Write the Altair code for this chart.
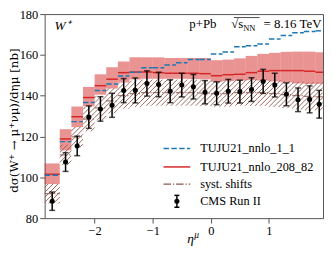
import altair as alt
import pandas as pd
import numpy as np

# ---------------- data ----------------
edges = [-2.86, -2.6, -2.4, -2.2, -2.0, -1.8, -1.6, -1.4, -1.2, -1.0, -0.8, -0.6,
         -0.4, -0.2, 0.0, 0.2, 0.4, 0.6, 0.8, 1.0, 1.2, 1.4, 1.6, 1.8, 1.93]

cms = [88.3, 107.5, 115.4, 129.5, 133.5, 135.3, 142.5, 142.6, 146.0, 145.5, 142.2, 145.2,
       144.4, 141.7, 141.2, 142.2, 142.0, 143.0, 147.0, 145.2, 140.7, 138.0, 138.2, 135.8]
cms_err = [4.5, 4.6, 4.8, 5.5, 6.0, 5.9, 5.9, 6.1, 6.2, 6.0, 5.6, 5.8,
           6.0, 5.7, 5.6, 5.8, 5.6, 5.8, 5.9, 5.8, 5.6, 5.8, 6.6, 6.8]

nnlo_208 = [101.5, 118.8, 129.7, 139.1, 144.9, 148.1, 151.3, 151.6, 151.6, 151.3, 151.0, 151.0,
            151.0, 150.8, 149.8, 150.3, 150.5, 151.3, 152.0, 152.3, 152.3, 152.3, 152.0, 151.5]
nnlo_208_hi = [106.8, 123.6, 134.7, 144.3, 150.5, 154.0, 156.8, 158.8, 158.8, 158.8, 158.5, 158.5,
               158.5, 158.5, 157.4, 157.7, 158.3, 159.5, 160.5, 161.0, 161.5, 161.6, 161.6, 161.3]
nnlo_208_lo = [96.7, 113.2, 124.6, 134.8, 140.5, 143.5, 146.5, 148.0, 148.3, 148.3, 148.3, 148.3,
               148.2, 148.0, 146.8, 147.2, 147.4, 147.6, 147.4, 147.0, 146.5, 146.0, 145.8, 145.8]

nnlo_1_1 = [101.0, 117.5, 127.3, 136.7, 142.5, 145.7, 149.6, 151.5, 153.7, 153.7, 155.0, 156.2,
            157.7, 157.7, 160.4, 161.4, 164.0, 164.5, 165.3, 167.8, 169.5, 170.8, 171.5, 171.8]

syst = [92.0, 111.0, 119.8, 128.5, 134.0, 137.5, 140.0, 141.0, 141.5, 141.5, 141.5, 141.5,
        141.5, 141.3, 141.0, 141.0, 141.5, 141.5, 141.5, 141.0, 140.5, 140.0, 139.7, 139.5]
syst_half = [4.8, 5.0, 5.0, 6.0, 6.0, 6.2, 6.3, 6.4, 6.4, 6.4, 6.4, 6.4,
             6.4, 6.4, 6.4, 6.4, 6.4, 6.5, 6.5, 6.6, 6.6, 6.8, 6.9, 7.0]

x_ticks = [-2, -1, 0, 1]
y_ticks = [80, 100, 120, 140, 160, 180]
legend_labels = ["TUJU21_nnlo_1_1", "TUJU21_nnlo_208_82", "syst. shifts", "CMS Run II"]

# ---------------- layout / style ----------------
LEFT, TOP = 45, 13          # page position of the plot area
W, H = 281, 206
XMIN, XMAX = -2.86, 1.93
YMIN, YMAX = 80, 180
FONT = "Liberation Serif"
RED = "#d62728"
BLUE = "#1f77b4"
BROWN = "#8c564b"


def px(page_x):
    return page_x - LEFT


def py(page_y):
    return page_y - TOP


lo = edges[:-1]
hi = edges[1:]
df = pd.DataFrame({
    "x0": lo, "x1": hi,
    "xc": [(a + b) / 2 for a, b in zip(lo, hi)],
    "cms": cms,
    "cms_lo": [v - e for v, e in zip(cms, cms_err)],
    "cms_hi": [v + e for v, e in zip(cms, cms_err)],
    "r": nnlo_208, "r_lo": nnlo_208_lo, "r_hi": nnlo_208_hi,
    "b": nnlo_1_1,
    "s": syst,
    "s_lo": [v - h for v, h in zip(syst, syst_half)],
    "s_hi": [v + h for v, h in zip(syst, syst_half)],
})

xs = alt.Scale(domain=[XMIN, XMAX], nice=False, zero=False)
ys = alt.Scale(domain=[YMIN, YMAX], nice=False, zero=False)

X = alt.X("x0:Q", scale=xs, axis=alt.Axis(values=x_ticks, title=None, format="d"))
Y = alt.Y("r_lo:Q", scale=ys,
          axis=alt.Axis(values=y_ticks, title="dσ(W⁺ → μ⁺νμ)/dημ [nb]",
                        titleX=px(13.5), titleY=H / 2 + 4, titleAngle=270,
                        titleBaseline="middle", titleAlign="center",
                        titleFont="DejaVu Serif", titleFontSize=12))

base = alt.Chart(df)

band = base.mark_rect(color=RED, opacity=0.5, strokeWidth=0).encode(
    x=X, x2="x1:Q", y=Y, y2="r_hi:Q")

red_line = base.mark_rule(color=RED, strokeWidth=1.5).encode(
    x=alt.X("x0:Q", scale=xs), x2="x1:Q", y=alt.Y("r:Q", scale=ys))

blue_line = base.mark_rule(color=BLUE, strokeWidth=1.5, strokeDash=[5.5, 2.4]).encode(
    x=alt.X("x0:Q", scale=xs), x2="x1:Q", y=alt.Y("b:Q", scale=ys))

# hatch pattern for the syst. shifts band (45 degree lines on a global pixel grid)
sx = W / (XMAX - XMIN)
sy = H / (YMAX - YMIN)
segs = []
for a, b, l, h in zip(lo, hi, df["s_lo"], df["s_hi"]):
    X0, X1 = (a - XMIN) * sx, (b - XMIN) * sx
    Y0, Y1 = (l - YMIN) * sy, (h - YMIN) * sy
    for c in np.arange(-H - 10, W + 10, 5.0):
        xa = max(X0, Y0 + c)
        xb = min(X1, Y1 + c)
        if xb > xa:
            segs.append({
                "hx0": xa / sx + XMIN, "hx1": xb / sx + XMIN,
                "hy0": (xa - c) / sy + YMIN, "hy1": (xb - c) / sy + YMIN,
            })
hatch_df = pd.DataFrame(segs)
hatch = alt.Chart(hatch_df).mark_rule(color=BROWN, strokeWidth=0.9).encode(
    x=alt.X("hx0:Q", scale=xs), x2="hx1:Q",
    y=alt.Y("hy0:Q", scale=ys), y2="hy1:Q")

syst_line = base.mark_rule(color=BROWN, strokeWidth=1.2, strokeDash=[7.5, 2, 1.2, 2],
                           opacity=0.8).encode(
    x=alt.X("x0:Q", scale=xs), x2="x1:Q", y=alt.Y("s:Q", scale=ys))

err = base.mark_rule(color="black", strokeWidth=1.5).encode(
    x=alt.X("xc:Q", scale=xs), y=alt.Y("cms_lo:Q", scale=ys), y2="cms_hi:Q")
cap_lo = base.mark_tick(color="black", orient="horizontal", size=6, thickness=1.5).encode(
    x=alt.X("xc:Q", scale=xs), y=alt.Y("cms_lo:Q", scale=ys))
cap_hi = base.mark_tick(color="black", orient="horizontal", size=6, thickness=1.5).encode(
    x=alt.X("xc:Q", scale=xs), y=alt.Y("cms_hi:Q", scale=ys))
pts = base.mark_circle(color="black", size=26, opacity=1).encode(
    x=alt.X("xc:Q", scale=xs), y=alt.Y("cms:Q", scale=ys))

# ---------------- legend (manual, pixel positions) ----------------
one = pd.DataFrame({"k": [0]})
LX0, LX1, LT = px(165), px(192), px(202)
rows = [py(148.7), py(167.3), py(184.7), py(202.0)]
leg = []
leg.append(alt.Chart(one).mark_rule(color=BLUE, strokeWidth=1.5, strokeDash=[5.5, 2.4]).encode(
    x=alt.value(LX0), x2=alt.value(LX1), y=alt.value(rows[0])))
leg.append(alt.Chart(one).mark_rule(color=RED, strokeWidth=1.5).encode(
    x=alt.value(LX0), x2=alt.value(LX1), y=alt.value(rows[1])))
leg.append(alt.Chart(one).mark_rule(color=BROWN, strokeWidth=1.2, strokeDash=[7.5, 2, 1.2, 2]).encode(
    x=alt.value(LX0), x2=alt.value(LX1), y=alt.value(rows[2])))
mx = (LX0 + LX1) / 2
leg.append(alt.Chart(one).mark_rule(color="black", strokeWidth=1.5).encode(
    x=alt.value(mx), y=alt.value(rows[3] - 6), y2=alt.value(rows[3] + 6)))
leg.append(alt.Chart(one).mark_rule(color="black", strokeWidth=1.5).encode(
    x=alt.value(mx - 2.5), x2=alt.value(mx + 2.5), y=alt.value(rows[3] - 6)))
leg.append(alt.Chart(one).mark_rule(color="black", strokeWidth=1.5).encode(
    x=alt.value(mx - 2.5), x2=alt.value(mx + 2.5), y=alt.value(rows[3] + 6)))
leg.append(alt.Chart(one).mark_circle(color="black", size=26, opacity=1).encode(
    x=alt.value(mx), y=alt.value(rows[3])))
for lab, ry in zip(legend_labels, rows):
    leg.append(alt.Chart(one).mark_text(text=lab, font=FONT, fontSize=12.4, align="left",
                                        baseline="middle", color="black").encode(
        x=alt.value(LT), y=alt.value(ry)))

# ---------------- annotations ----------------
ann = []


def txt(s, x, y, size=13, style="normal", align="left"):
    return alt.Chart(one).mark_text(text=s, font=FONT, fontSize=size, fontStyle=style,
                                    align=align, baseline="alphabetic",
                                    color="black").encode(x=alt.value(x), y=alt.value(y))


ann.append(txt("W⁺", px(55), py(29), size=13.5, style="italic"))
ann.append(txt("p+Pb", px(191), py(27), size=13))
ann.append(txt("√s", px(245.5), py(27), size=13, align="right"))
ann.append(txt("NN", px(245.5), py(30), size=8.5))
ann.append(alt.Chart(one).mark_rule(color="black", strokeWidth=0.7).encode(
    x=alt.value(px(236)), x2=alt.value(px(262)), y=alt.value(py(16.5))))
ann.append(txt("= 8.16 TeV", px(266), py(27), size=13))
# x axis title
ann.append(txt("η", px(189), py(244), size=13.5, style="italic"))
ann.append(txt("μ", px(196), py(239), size=9.5, style="italic"))

chart = alt.layer(band, red_line, blue_line, hatch, syst_line, err, cap_lo, cap_hi, pts,
                  *leg, *ann).properties(
    width=W, height=H,
    autosize=alt.AutoSizeParams(type="none"),
    padding={"left": LEFT - 8, "top": TOP - 8, "right": 1, "bottom": 256 - 8 - TOP - H},
).configure_view(
    stroke="#555555", strokeWidth=1
).configure_axis(
    grid=False, domain=False, tickColor="#555555", tickSize=5, tickWidth=1,
    labelFont=FONT, labelFontSize=12.5, labelColor="black", labelPadding=2,
    titleFont=FONT, titleFontSize=13, titleColor="black", titleFontWeight="normal",
).configure_axisX(labelFlush=False)

chart.save("out.html", embed_options={"renderer": "svg", "actions": False})
